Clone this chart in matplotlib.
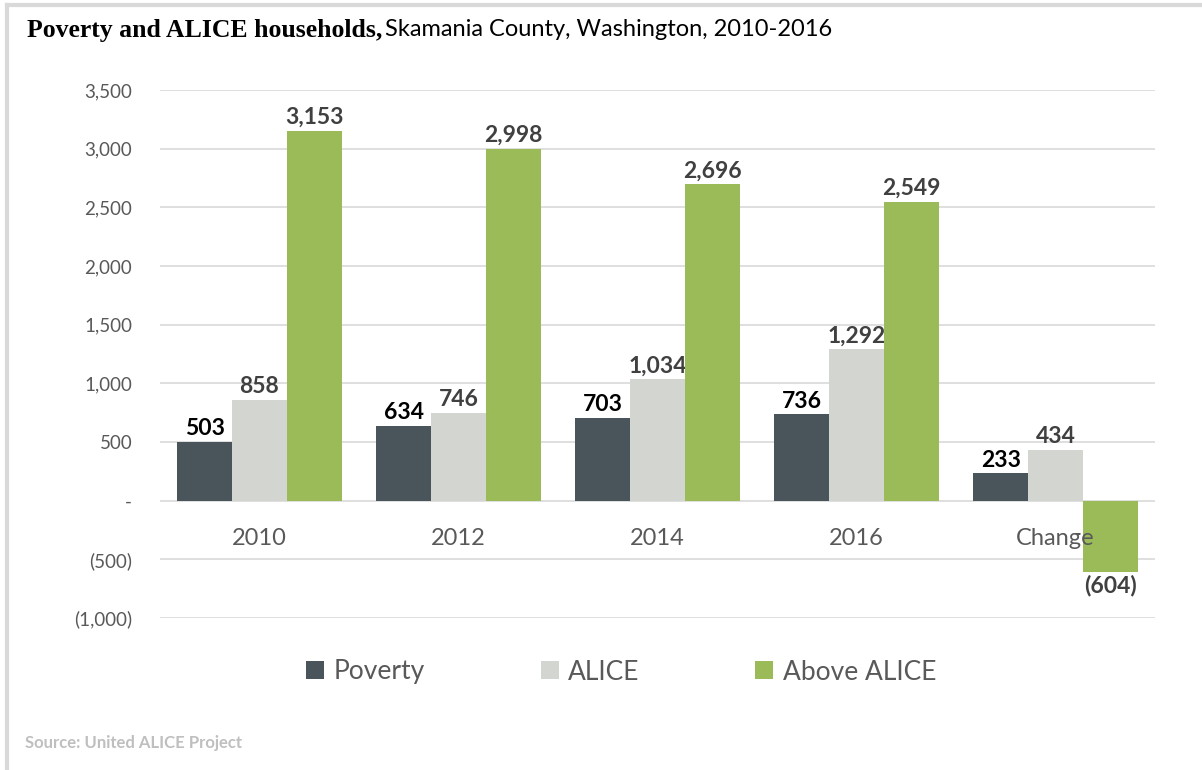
import numpy as np
import matplotlib
matplotlib.use("Agg")
import matplotlib.pyplot as plt
from matplotlib.patches import Patch
from matplotlib.lines import Line2D

# ---- data ----
categories = ["2010", "2012", "2014", "2016", "Change"]
poverty = [503, 634, 703, 736, 233]
alice = [858, 746, 1034, 1292, 434]
above_alice = [3153, 2998, 2696, 2549, -604]

series_names = ["Poverty", "ALICE", "Above ALICE"]
colors = ["#4a545b", "#d3d5d0", "#9bbb59"]
label_colors = ["#000000", "#404040", "#404040"]

plt.rcParams["font.family"] = ["Lato", "DejaVu Sans"]


def fmt(v):
    if v == 0:
        return "-"
    if v < 0:
        return "({:,.0f})".format(-v)
    return "{:,.0f}".format(v)


fig = plt.figure(figsize=(12.02, 7.70), dpi=100)
ax = fig.add_axes([160 / 1202, 1 - 618 / 770, 995 / 1202, 528 / 770])

x = np.arange(len(categories))
w = 0.275
for i, (vals, col) in enumerate(zip([poverty, alice, above_alice], colors)):
    pos = x + (i - 1) * w
    ax.bar(pos, vals, width=w, color=col, zorder=3)
    for p, v in zip(pos, vals):
        if v >= 0:
            ax.annotate(fmt(v), (p, v), xytext=(0, 2), textcoords="offset points",
                        ha="center", va="bottom", fontsize=16.5, fontweight="bold",
                        color=label_colors[i])
        else:
            ax.annotate(fmt(v), (p, v), xytext=(0, -2), textcoords="offset points",
                        ha="center", va="top", fontsize=16.5, fontweight="bold",
                        color=label_colors[i])

ax.set_xlim(-0.5, len(categories) - 0.5)
ax.set_ylim(-1000, 3500)
ax.set_yticks(np.arange(-1000, 3501, 500))
ax.set_yticklabels([fmt(t) for t in np.arange(-1000, 3501, 500)])
ax.grid(axis="y", color="#d9d9d9", linewidth=1.2, zorder=0)
for s in ax.spines.values():
    s.set_visible(False)
ax.tick_params(axis="y", length=0, labelsize=13.5, labelcolor="#595959", pad=20)

# category labels sit under the zero line, drawn over the bars
ax.set_xticks(x)
ax.set_xticklabels(categories)
ax.spines["bottom"].set_position(("data", 0))
ax.tick_params(axis="x", length=0, labelsize=17, labelcolor="#595959", pad=20)
ax.xaxis.set_zorder(5)

handles = [Patch(facecolor=c, edgecolor="none") for c in colors]
fig.legend(handles, series_names, loc="center", bbox_to_anchor=(621 / 1202, 1 - 672 / 770),
           ncol=3, frameon=False, fontsize=19, labelcolor="#595959",
           handlelength=0.68, handleheight=0.68, handletextpad=0.35, columnspacing=4.4)

# title: bold serif part + regular part
t1 = fig.text(27 / 1202, 1 - 30 / 770, "Poverty and ALICE households,", family="Liberation Serif",
              fontweight="bold", fontsize=18.5, va="center", ha="left", color="#000000")
fig.canvas.draw()
bb = t1.get_window_extent()
fig.text(bb.x1 / 1202 + 0.002, 1 - 30 / 770, "Skamania County, Washington, 2010-2016",
         fontsize=17, va="center", ha="left", color="#000000")

fig.text(25 / 1202, 1 - 743 / 770, "Source: United ALICE Project", fontsize=12,
         fontweight="bold", color="#bfbfbf", va="center", ha="left")

# frame lines at top and left
fig.add_artist(Line2D([7 / 1202, 1], [1 - 5 / 770, 1 - 5 / 770], color="#d9d9d9", linewidth=3))
fig.add_artist(Line2D([7 / 1202, 7 / 1202], [0, 1 - 5 / 770], color="#d9d9d9", linewidth=3))

fig.savefig("out.png", dpi=100)
